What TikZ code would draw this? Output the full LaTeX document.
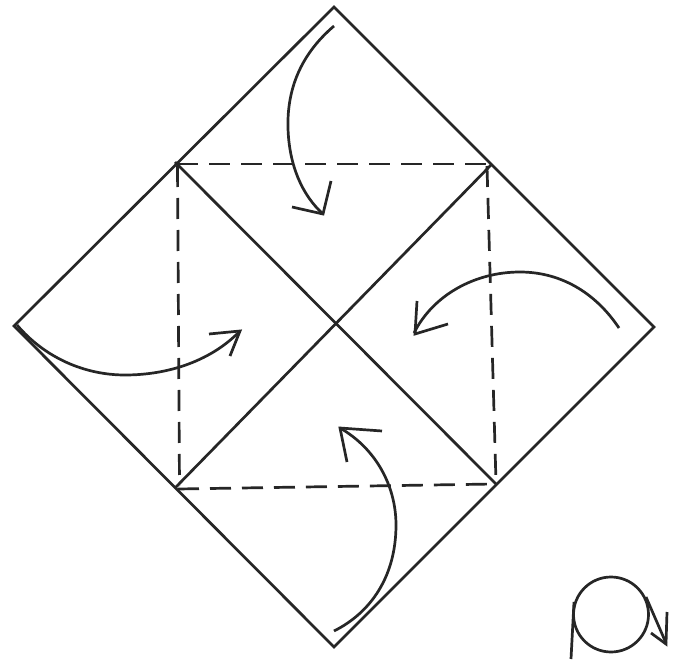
\documentclass[tikz,border=0pt]{standalone}
\begin{document}
\begin{tikzpicture}[x=1pt,y=-1pt,
  ink/.style={draw=black!85!white,line width=2.7pt},
  fold/.style={ink,dash pattern=on 21pt off 11pt}]
\useasboundingbox[fill=white] (0,0) rectangle (681,661);
\coordinate (T) at (334,7);
\coordinate (R) at (654,327);
\coordinate (B) at (334,647);
\coordinate (L) at (14,326);
\coordinate (NW) at (175,162);
\coordinate (NE) at (492,164);
\coordinate (SE) at (496,484);
\coordinate (SW) at (175,488);
\draw[ink,line join=miter] (T) -- (R) -- (B) -- (L) -- cycle;
\draw[ink] (NW) -- (SE);
\draw[ink] (SW) -- (NE);
\draw[fold] (177,164) -- (489,164);
\draw[fold] (487,166) -- (496,482);
\draw[fold] (178,489) -- (494,484);
\draw[fold] (177.5,166) -- (179.5,486);
% top arrow
\draw[ink] (334,26) .. controls (300,55) and (287,90) .. (288,128) .. controls (289,165) and (302,195) .. (323,214);
\draw[ink] (292,207) -- (323,214) -- (331,181);
% right arrow
\draw[ink] (619,328) .. controls (595,292) and (560,272) .. (520,272) .. controls (475,272) and (433,295) .. (414,333);
\draw[ink] (448,324) -- (415,334) -- (417,301);
% bottom arrow
\draw[ink] (334,631) .. controls (372,612) and (396,575) .. (396,525) .. controls (396,485) and (375,448) .. (340,428);
\draw[ink] (347,462) -- (340,428) -- (382,431);
% left arrow
\draw[ink] (17,325) .. controls (45,358) and (85,375) .. (125,375) .. controls (170,375) and (212,360) .. (240,331);
\draw[ink] (209,334) -- (240,331) -- (230,356);
% symbol
\draw[ink] (611,614.5) circle (37.5);
\draw[ink] (574,602) -- (571,659);
\draw[ink] (646,597) -- (666,643);
\draw[ink] (651,633) -- (666,644) -- (667,612);
\end{tikzpicture}
\end{document}
